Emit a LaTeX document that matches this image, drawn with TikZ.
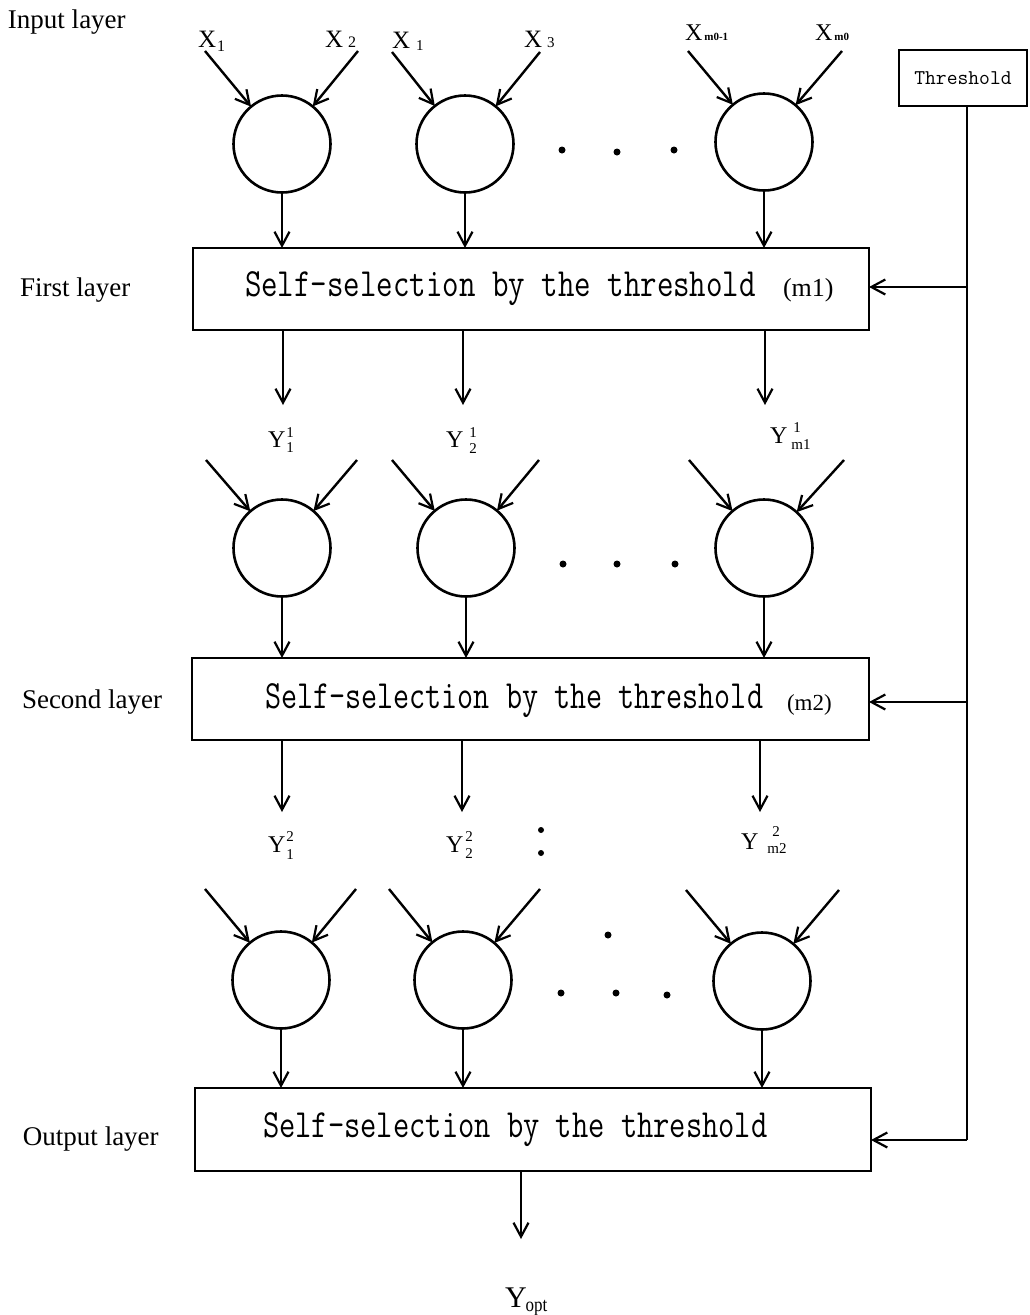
\documentclass[tikz,border=0pt]{standalone}
\usepackage{fontspec}
\setmainfont{Liberation Serif}
\usetikzlibrary{arrows.meta}
\newcommand{\sz}[1]{\fontsize{#1}{#1}\selectfont}
\newcommand{\Xlab}[4]{X\kern#3\raisebox{#2}{\sz{#4}#1}}
\newcommand{\Ylab}[6]{Y\kern#5\rlap{\hspace{#6}\raisebox{#3}{\sz{15}#1}}\raisebox{#4}{\sz{15}#2}}
\begin{document}
\begin{tikzpicture}[x=1pt,y=-1pt,
  every node/.style={inner sep=0pt, outer sep=0pt},
  neuron/.style={draw, circle, minimum size=97pt, line width=2.6pt},
  selbox/.style={draw, rectangle, line width=2.8pt},
  conn/.style={line width=2.5pt},
  arr/.style={line width=2.4pt, -{Straight Barb[length=14pt,width=15pt,line width=2.2pt]}},
  sidelbl/.style={anchor=base west, font=\sz{27}},
  boxtxt/.style={anchor=base west, font=\sz{40}\ttfamily},
  xlbl/.style={anchor=base west, font=\sz{25}},
  ylbl/.style={anchor=base west, font=\sz{24}},
  bdot/.style={circle, fill, minimum size=7pt}
]
\useasboundingbox (0,0) rectangle (1029,1315);

% side labels
\node[sidelbl] (lin) at (8,28) {Input layer};
\node[sidelbl] (lfirst) at (20,296) {First layer};
\node[sidelbl] (lsecond) at (22,708) {Second layer};
\node[sidelbl] (lout) at (23,1145) {Output layer};

% threshold
\node[draw, line width=2pt, minimum width=128pt, minimum height=56pt, font=\sz{21}\ttfamily] (thr) at (963,78) {Threshold};

% input labels
\node[xlbl] (x1a) at (198,47) {\Xlab{1}{-4pt}{1pt}{16}};
\node[xlbl] (x2) at (325,47) {\Xlab{2}{0pt}{5pt}{16}};
\node[xlbl] (x1b) at (392,48) {\Xlab{1}{-2pt}{6pt}{15}};
\node[xlbl] (x3) at (524,47) {\Xlab{3}{0pt}{5pt}{15}};
\node[xlbl, font=\sz{24}] (xm01) at (685,40) {\Xlab{\bfseries m0-1}{0pt}{2pt}{11}};
\node[xlbl, font=\sz{24}] (xm0) at (815,40) {\Xlab{\bfseries m0}{0pt}{2pt}{11}};

% ---- row 1 neurons
\node[neuron] (c11) at (282,144) {};
\node[neuron] (c12) at (465,144) {};
\node[neuron] (c13) at (764,142) {};
\coordinate (a11) at (205,51); \coordinate (a12) at (358,51);
\coordinate (a13) at (392,52); \coordinate (a14) at (540,52);
\coordinate (a15) at (688,51); \coordinate (a16) at (842,51);
\draw[arr] (a11) -- (c11); \draw[arr] (a12) -- (c11);
\draw[arr] (a13) -- (c12); \draw[arr] (a14) -- (c12);
\draw[arr] (a15) -- (c13); \draw[arr] (a16) -- (c13);
\node[bdot] (d11) at (562,150) {};
\node[bdot] (d12) at (617,152) {};
\node[bdot] (d13) at (674,150) {};

% ---- first layer box
\node[selbox, minimum width=676pt, minimum height=82pt] (b1) at (531,289) {};
\node[boxtxt] (t1) at (245,296) {\scalebox{0.8}[1]{Self-selection by the threshold}};
\node[anchor=base west, font=\sz{26}] (m1) at (783,296) {(m1)};
\draw[arr] (c11.south) -- (c11.south |- b1.north);
\draw[arr] (c12.south) -- (c12.south |- b1.north);
\draw[arr] (c13.south) -- (c13.south |- b1.north);

\coordinate (y11) at (283,405); \coordinate (y12) at (463,405); \coordinate (y13) at (765,405);
\draw[arr] (b1.south -| y11) -- (y11);
\draw[arr] (b1.south -| y12) -- (y12);
\draw[arr] (b1.south -| y13) -- (y13);
\node[ylbl] (ly11) at (268,447) {\Ylab{1}{1}{10pt}{-5pt}{1pt}{0pt}};
\node[ylbl] (ly12) at (446,447) {\Ylab{1}{2}{10pt}{-6pt}{6pt}{0pt}};
\node[ylbl] (ly13) at (770,443) {\Ylab{1}{m1}{11pt}{-6pt}{4pt}{2pt}};

% ---- row 2 neurons
\node[neuron] (c21) at (282,548) {};
\node[neuron] (c22) at (466,548) {};
\node[neuron] (c23) at (764,548) {};
\coordinate (a21) at (206,460); \coordinate (a22) at (357,460);
\coordinate (a23) at (392,460); \coordinate (a24) at (539,460);
\coordinate (a25) at (689,460); \coordinate (a26) at (844,460);
\draw[arr] (a21) -- (c21); \draw[arr] (a22) -- (c21);
\draw[arr] (a23) -- (c22); \draw[arr] (a24) -- (c22);
\draw[arr] (a25) -- (c23); \draw[arr] (a26) -- (c23);
\node[bdot] (d21) at (563,564) {};
\node[bdot] (d22) at (617,564) {};
\node[bdot] (d23) at (675,564) {};

% ---- second layer box
\node[selbox, minimum width=677pt, minimum height=82pt] (b2) at (530.5,699) {};
\node[boxtxt] (t2) at (265,708) {\scalebox{0.78}[1]{Self-selection by the threshold}};
\node[anchor=base west, font=\sz{23}] (m2) at (787,710) {(m2)};
\draw[arr] (c21.south) -- (c21.south |- b2.north);
\draw[arr] (c22.south) -- (c22.south |- b2.north);
\draw[arr] (c23.south) -- (c23.south |- b2.north);

\coordinate (y21) at (282,812); \coordinate (y22) at (462,812); \coordinate (y23) at (760,812);
\draw[arr] (b2.south -| y21) -- (y21);
\draw[arr] (b2.south -| y22) -- (y22);
\draw[arr] (b2.south -| y23) -- (y23);
\node[ylbl] (ly21) at (268,852) {\Ylab{2}{1}{11pt}{-7pt}{1pt}{0pt}};
\node[ylbl] (ly22) at (446,852) {\Ylab{2}{2}{11pt}{-6pt}{2pt}{0pt}};
\node[ylbl] (ly23) at (741,849) {\Ylab{2}{m2}{13pt}{-4pt}{9pt}{5pt}};
\node[bdot, minimum size=6pt] (col1) at (541,830) {};
\node[bdot, minimum size=6pt] (col2) at (541,853) {};

% ---- row 3 neurons
\node[neuron] (c31) at (281,980) {};
\node[neuron] (c32) at (463,980) {};
\node[neuron] (c33) at (762,981) {};
\coordinate (a31) at (205,889); \coordinate (a32) at (356,889);
\coordinate (a33) at (389,889); \coordinate (a34) at (540,889);
\coordinate (a35) at (686,890); \coordinate (a36) at (839,890);
\draw[arr] (a31) -- (c31); \draw[arr] (a32) -- (c31);
\draw[arr] (a33) -- (c32); \draw[arr] (a34) -- (c32);
\draw[arr] (a35) -- (c33); \draw[arr] (a36) -- (c33);
\node[bdot] (d31) at (561,993) {};
\node[bdot] (d32) at (616,993) {};
\node[bdot] (d33) at (667,995) {};
\node[bdot] (d34) at (608,935) {};

% ---- output layer box
\node[selbox, minimum width=676pt, minimum height=83pt] (b3) at (533,1129.5) {};
\node[boxtxt] (t3) at (263,1137) {\scalebox{0.79}[1]{Self-selection by the threshold}};
\draw[arr] (c31.south) -- (c31.south |- b3.north);
\draw[arr] (c32.south) -- (c32.south |- b3.north);
\draw[arr] (c33.south) -- (c33.south |- b3.north);
\coordinate (yo) at (521,1239);
\draw[arr] (b3.south -| yo) -- (yo);
\node[anchor=base west, font=\sz{30}] (lyo) at (505,1307) {Y\kern-1pt\raisebox{-4pt}{\scalebox{0.85}[1]{\sz{20}opt}}};

% ---- threshold feedback
\coordinate (j1) at (967,287);
\coordinate (j2) at (967,702);
\coordinate (j3) at (967,1140);
\draw[conn] (thr.south -| j1) -- (j3);
\draw[arr] (j1) -- (j1 -| b1.east);
\draw[arr] (j2) -- (j2 -| b2.east);
\draw[arr] (j3) -- (j3 -| b3.east);
\end{tikzpicture}
\end{document}
